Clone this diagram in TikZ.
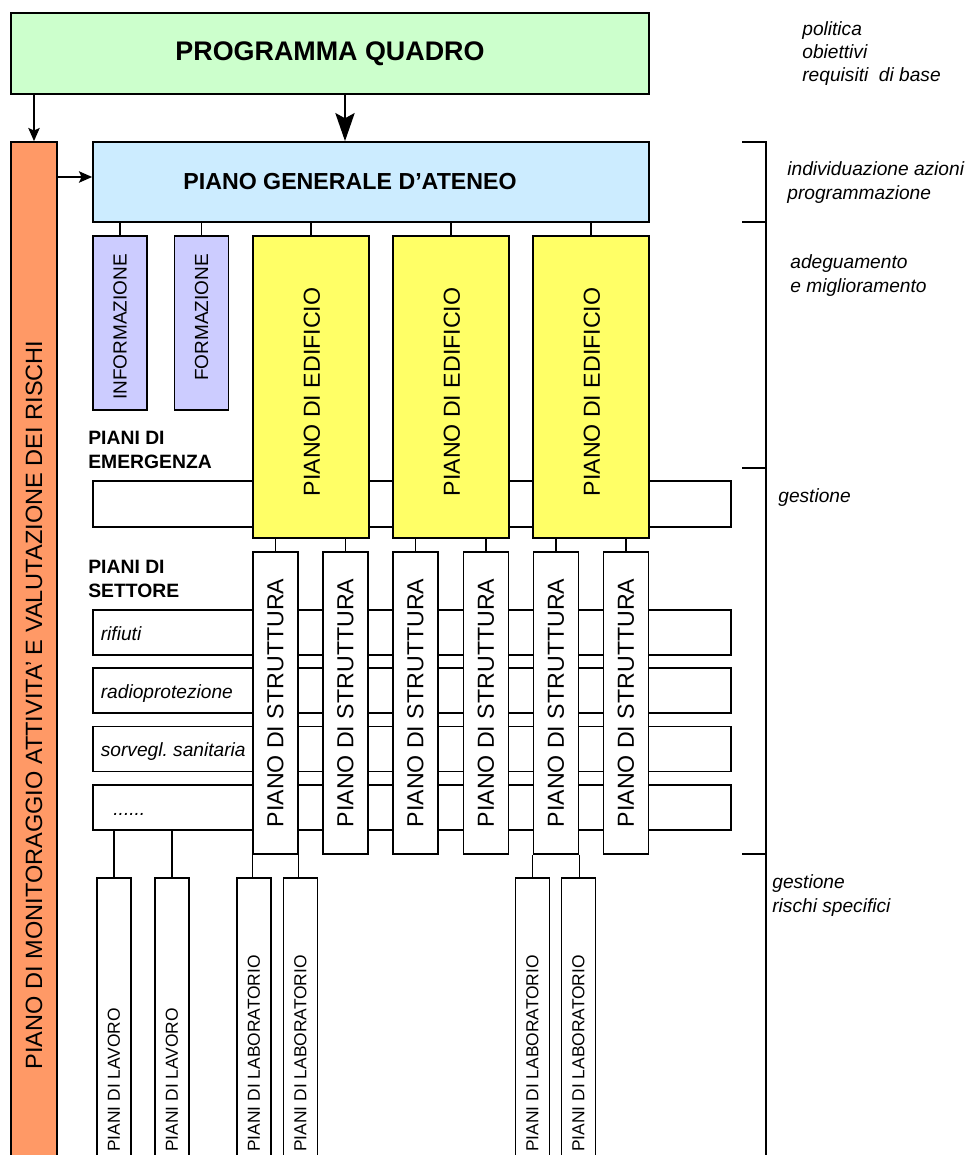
\documentclass[tikz,border=0pt]{standalone}
\usepackage{fontspec}
\setmainfont{Liberation Sans}
\usepackage{graphicx}
\usepackage{tikz}
\usetikzlibrary{positioning}
\usetikzlibrary{arrows.meta}
\frenchspacing

\definecolor{quadro}{HTML}{CCFFCC}
\definecolor{ateneo}{HTML}{CCECFF}
\definecolor{formaz}{HTML}{CCCCFF}
\definecolor{edificio}{HTML}{FFFF66}
\definecolor{monitor}{HTML}{FF9966}

\tikzset{sz/.style 2 args={minimum width=#1*0.02cm, minimum height=#2*0.02cm}}
\tikzset{box/.style={draw, line width=1pt, inner sep=0pt}}
\tikzset{wbox/.style={draw, line width=0.9pt, fill=white, inner sep=0pt}}
\tikzset{conn/.style={line width=0.8pt}}
\tikzset{arr/.style={line width=1pt, -{Stealth[length=7.5pt,width=6.5pt,inset=1.5pt]}}}
\tikzset{bigarr/.style={line width=1pt, -{Stealth[length=16pt,width=11pt,inset=3pt]}}}
\tikzset{brk/.style={line width=0.9pt}}
\tikzset{bigfont/.style={font=\fontsize{15.3}{18}\selectfont\bfseries}}
\tikzset{titfont/.style={font=\fontsize{13.2}{16}\selectfont\bfseries}}
\tikzset{midfont/.style={font=\fontsize{13.2}{16}\selectfont}}
\tikzset{monfont/.style={font=\fontsize{13.4}{16}\selectfont}}
\tikzset{smallfont/.style={font=\fontsize{10.8}{13}\selectfont, rotate=90, anchor=east, inner sep=0pt}}
\tikzset{note/.style={font=\fontsize{10.9}{13.3}\selectfont\itshape, align=left, anchor=west, inner sep=0pt}}
\tikzset{head/.style={font=\fontsize{11}{13.6}\selectfont\bfseries, align=left, anchor=west, inner sep=0pt}}
\tikzset{tinyfont/.style={font=\fontsize{9.9}{11}\selectfont, rotate=90, anchor=west, inner sep=0pt}}

\begin{document}
\begin{tikzpicture}[x=0.02cm, y=-0.02cm]
\useasboundingbox (0,0) rectangle (972,1155);
\clip (0,0) rectangle (972,1155);

% programma quadro e piano di monitoraggio
\node[box, fill=quadro, sz={638}{81}, bigfont] (quadro) at (330,53.5) {PROGRAMMA QUADRO};
\node[box, fill=monitor, sz={46}{1126}, monfont] (monit) at (34,705)
  {\rotatebox{90}{PIANO DI MONITORAGGIO ATTIVITA’ E VALUTAZIONE DEI RISCHI}};
\node[box, fill=ateneo, sz={556}{80}] (ateneo) at (371,182) {};
\node[titfont] (ateneot) at (350,182) {PIANO GENERALE D’ATENEO};

\coordinate (qa) at (345,94);
\coordinate (ma) at (57,177);
\draw[arr] (quadro.south -| monit.north) -- (monit.north);
\draw[bigarr] (qa) -- (qa |- ateneo.north);
\draw[arr] (ma) -- (ma -| ateneo.west);

% informazione / formazione
\foreach \n/\x/\t in {info/120/INFORMAZIONE, form/201.5/FORMAZIONE} {
  \node[box, fill=formaz, sz={54}{174}] (\n) at (\x,323) {};
  \node[smallfont] (\n t) at (\x,254) {\t};
  \draw[conn] (\n.north) -- (\n.north |- ateneo.south);
}

% piani di emergenza
\node[wbox, sz={638}{46}] (emerg) at (412,504) {};
\node[head] (emergt) at (88,450) {PIANI DI\\EMERGENZA};

% piani di edificio
\foreach \i/\x in {1/311, 2/451, 3/591} {
  \node[box, fill=edificio, sz={116}{302}] (e\i) at (\x,387) {};
  \node[midfont, rotate=90, inner sep=0pt] (e\i t) at (\x+1,392) {PIANO DI EDIFICIO};
  \draw[conn] (e\i.north) -- (e\i.north |- ateneo.south);
}

% piani di settore
\node[head] (settt) at (88,579) {PIANI DI\\SETTORE};
\foreach \i/\y/\t in {1/632.5/rifiuti, 2/690.5/radioprotezione, 3/749/sorvegl. sanitaria} {
  \node[wbox, sz={638}{45}] (set\i) at (412,\y) {};
  \node[note, anchor=base west] (set\i t) at (100.5,\y+7.5) {\t};
}
\node[wbox, sz={638}{45}] (set4) at (412,807.5) {};
\node[note, anchor=base west] (set4t) at (113,815) {......};

% piani di struttura
\foreach \i/\x/\e in {1/275.5/1, 2/345.5/1, 3/415.5/2, 4/486/2, 5/556/3, 6/626/3} {
  \node[wbox, sz={45}{302}, midfont] (s\i) at (\x,703) {\rotatebox{90}{PIANO DI STRUTTURA}};
  \draw[conn] (s\i.north) -- (s\i.north |- e\e.south);
}

% piani di lavoro e di laboratorio
\foreach \i/\x in {1/114, 2/172} {
  \node[wbox, sz={34}{400}] (lav\i) at (\x,1078) {};
  \node[tinyfont] (lav\i t) at (\x,1152) {PIANI DI LAVORO};
  \draw[conn] (lav\i.north) -- (lav\i.north |- set4.south);
}
\foreach \i/\x/\c in {1/254/s1.south west, 2/300.5/s1.south east, 3/532.5/s5.south west, 4/578.5/s5.south east} {
  \node[wbox, sz={34}{400}] (lab\i) at (\x,1078) {};
  \node[tinyfont] (lab\i t) at (\x,1152) {PIANI DI LABORATORIO};
  \draw[conn] (\c) -- (\c |- lab\i.north);
}

% parentesi a destra
\draw[brk] (742,142) -- (766,142) -- (766,1200);
\foreach \y in {222,468,854} \draw[brk] (742,\y) -- (766,\y);

\node[note] (n1) at (802,53.5) {politica\\obiettivi\\requisiti~ di base};
\node[note] (n2) at (787,182.5) {individuazione azioni\\programmazione};
\node[note] (n3) at (790,275.5) {adeguamento\\e miglioramento};
\node[note] (n4) at (778,498) {gestione};
\node[note] (n5) at (772,895.5) {gestione\\rischi specifici};
\end{tikzpicture}
\end{document}
